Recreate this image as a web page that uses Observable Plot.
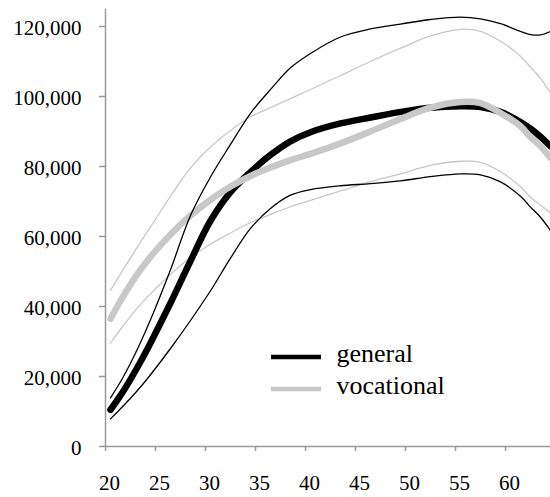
<!DOCTYPE html>
<html>
<head>
<meta charset="utf-8">
<script src="https://cdn.jsdelivr.net/npm/d3@7"></script>
<script src="https://cdn.jsdelivr.net/npm/@observablehq/plot@0.6"></script>
<style>
  html, body { margin: 0; padding: 0; background: #fff; }
  #chart { position: relative; width: 550px; height: 497px; }
  #legend { position: absolute; left: 0; top: 0; pointer-events: none; }
</style>
</head>
<body>
<div id="chart"></div>
<script>
// Age (years) at which each earnings estimate is given
const ages = [20, 21, 22, 23, 24, 26, 28, 30, 32, 34, 36, 38, 40, 43, 46, 49, 52, 55, 57, 59, 61, 62, 63, 64];

// General education: estimate with upper and lower bounds
const generalMean  = [10500, 14600, 19200, 24200, 29600, 41000, 53000, 64500, 72700, 78400, 83300, 87200, 89800, 92300, 94000, 95600, 96800, 97200, 97000, 95600, 92700, 90800, 88500, 85800];
const generalUpper = [13900, 18500, 23800, 29700, 36200, 50500, 66000, 77000, 86300, 95200, 102000, 108200, 112300, 117000, 119300, 120700, 122000, 122700, 122200, 120800, 118600, 117700, 117600, 118600];
const generalLower = [7900, 10800, 13800, 17000, 20500, 28000, 36000, 44500, 53800, 62300, 68000, 71800, 73400, 74500, 75100, 75900, 77100, 77900, 77600, 75600, 71500, 68400, 65500, 61700];

// Vocational education: estimate with upper and lower bounds
const vocationalMean  = [36500, 41600, 46300, 50500, 54200, 60600, 66000, 70500, 74300, 77300, 79700, 81800, 83600, 86600, 90000, 93600, 96800, 98400, 98100, 95300, 91500, 88400, 85800, 82500];
const vocationalUpper = [44600, 49300, 53900, 58400, 62700, 71500, 79600, 85600, 90300, 94200, 96800, 99400, 102000, 106000, 110000, 113800, 117300, 119200, 118600, 115800, 111500, 108400, 105200, 101000];
const vocationalLower = [29500, 33500, 37200, 40600, 43600, 49200, 54000, 57800, 61000, 64000, 66300, 68500, 70300, 73000, 75700, 77900, 80300, 81500, 81200, 78500, 74200, 71200, 69000, 66700];

// Axis ticks
const xTicks = [20, 25, 30, 35, 40, 45, 50, 55, 60];
const yTicks = [0, 20000, 40000, 60000, 80000, 100000, 120000];

// Series names and colours
const seriesNames = ["general", "vocational"];
const seriesColors = ["#000000", "#c8c8c8"];

// Long-format table; each age is placed at the middle of its year
function series(values, group, band) {
  return ages.map((a, i) => ({ age: a + 0.5, value: values[i], group, band }));
}
const genMean = series(generalMean, "general", "mean");
const genUp = series(generalUpper, "general", "upper");
const genLo = series(generalLower, "general", "lower");
const vocMean = series(vocationalMean, "vocational", "mean");
const vocUp = series(vocationalUpper, "vocational", "upper");
const vocLo = series(vocationalLower, "vocational", "lower");

const axisGray = "#9a9a9a";
const textColor = "#000000";
const curve = "catmull-rom";
const thin = 1.3;
const thick = 6.5;

const plot = Plot.plot({
  width: 550,
  height: 497,
  marginLeft: 105,
  marginRight: 0,
  marginTop: 8.5,
  marginBottom: 51,
  style: {
    fontFamily: "'Liberation Serif', 'Times New Roman', serif",
    fontSize: "21px",
    background: "#fff",
    overflow: "visible"
  },
  x: { domain: [20, 64.5], label: null },
  y: { domain: [0, 125000], label: null },
  marks: [
    // axis lines
    Plot.ruleX([20], { stroke: axisGray, strokeWidth: 1.5 }),
    Plot.ruleY([0], { stroke: axisGray, strokeWidth: 1.5 }),
    // tick marks
    Plot.axisX(xTicks, { tickSize: 5, fill: "none", stroke: axisGray, strokeWidth: 1.5, label: null }),
    Plot.axisY(yTicks, { tickSize: 6, fill: "none", stroke: axisGray, strokeWidth: 1.5, label: null }),
    // tick labels
    Plot.axisX(xTicks, { tickSize: 5, tickPadding: 24, stroke: "none", fill: textColor, dx: 4, label: null }),
    Plot.axisY(yTicks, { tickSize: 6, tickPadding: 18, stroke: "none", fill: textColor, dy: 2, tickFormat: d3.format(","), label: null }),
    // vocational bounds
    Plot.line(vocUp, { x: "age", y: "value", stroke: seriesColors[1], strokeWidth: thin, curve }),
    Plot.line(vocLo, { x: "age", y: "value", stroke: seriesColors[1], strokeWidth: thin, curve }),
    // estimates
    Plot.line(genMean, { x: "age", y: "value", stroke: seriesColors[0], strokeWidth: thick, strokeLinecap: "round", curve }),
    Plot.line(vocMean, { x: "age", y: "value", stroke: seriesColors[1], strokeWidth: thick, strokeLinecap: "round", curve }),
    // general bounds
    Plot.line(genUp, { x: "age", y: "value", stroke: seriesColors[0], strokeWidth: thin, curve }),
    Plot.line(genLo, { x: "age", y: "value", stroke: seriesColors[0], strokeWidth: thin, curve })
  ]
});

const chart = document.getElementById("chart");
chart.appendChild(plot);

// Legend drawn over the lower middle of the plot area
const legend = d3.select(chart).append("svg")
  .attr("id", "legend")
  .attr("width", 550)
  .attr("height", 497)
  .style("font-family", "'Liberation Serif', 'Times New Roman', serif");

seriesNames.forEach((name, i) => {
  const cy = 357 + 32 * i;
  legend.append("line")
    .attr("x1", 271).attr("x2", 321)
    .attr("y1", cy).attr("y2", cy)
    .attr("stroke", seriesColors[i])
    .attr("stroke-width", 4.3);
  legend.append("text")
    .attr("x", 336.5)
    .attr("y", cy + 4.8)
    .attr("font-size", 26)
    .attr("fill", textColor)
    .text(name);
});
</script>
</body>
</html>
